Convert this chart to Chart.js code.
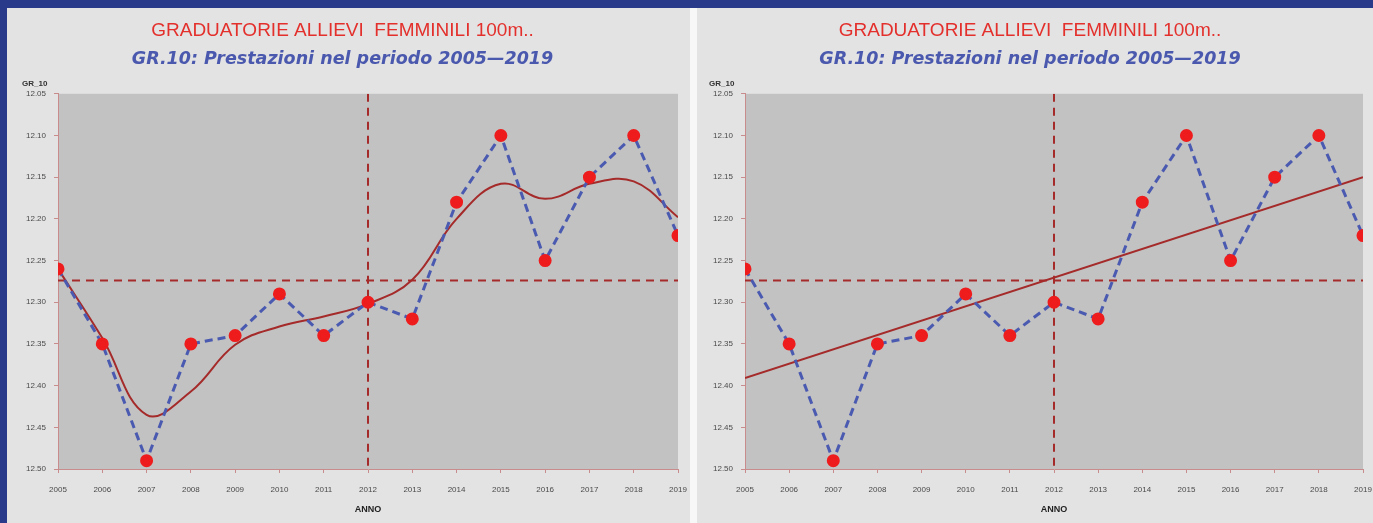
<!DOCTYPE html>
<html>
<head>
<meta charset="utf-8">
<script src="https://cdn.jsdelivr.net/npm/chart.js@4.4.1/dist/chart.umd.min.js"></script>
<style>
    body { margin: 0; width: 1373px; height: 523px; background: #2a3a8a; position: relative; overflow: hidden; }
    #left { position: absolute; left: 7px; top: 8px; width: 683px; height: 515px; background: #e3e3e3; }
    #gap { position: absolute; left: 690px; top: 8px; width: 7px; height: 515px; background: #f7f7f7; }
    #right { position: absolute; left: 697px; top: 8px; width: 676px; height: 515px; background: #e3e3e3; }
</style>
</head>
<body>
<div id="left"><canvas id="leftChart" width="683" height="515"></canvas></div>
<div id="gap"></div>
<div id="right"><canvas id="rightChart" width="676" height="515"></canvas></div>
<script>
// Data
const years = [2005, 2006, 2007, 2008, 2009, 2010, 2011, 2012, 2013, 2014, 2015, 2016, 2017, 2018, 2019]
const times = [12.26, 12.35, 12.49, 12.35, 12.34, 12.29, 12.34, 12.30, 12.32, 12.18, 12.10, 12.25, 12.15, 12.10, 12.22]
// smoothed curve (left chart)
const smoothTimes = [12.26, 12.343, 12.435, 12.407, 12.351, 12.329, 12.317, 12.302, 12.273, 12.200, 12.158, 12.176, 12.158, 12.155, 12.198]
// linear trend (right chart)
const trendYears = [2005, 2019]
const trendTimes = [12.391, 12.150]
// reference lines
const meanTime = 12.274
const medianYear = 2012
const yTicks = [12.05, 12.10, 12.15, 12.20, 12.25, 12.30, 12.35, 12.40, 12.45, 12.50]

const titleText = "GRADUATORIE ALLIEVI  FEMMINILI 100m.."
const subtitleText = "GR.10: Prestazioni nel periodo 2005\u20142019"

const redLine = "#a52a2a"
const blueDash = "#4a5ab0"
const dotRed = "#ee1c1c"

// plot background + GR_10 label
const panelPlugin = {
    id: "panelPlugin",
    beforeDraw(chart) {
        const { ctx, chartArea } = chart
        ctx.save()
        ctx.fillStyle = "#c2c2c2"
        ctx.fillRect(chartArea.left, chartArea.top, chartArea.right - chartArea.left, chartArea.bottom - chartArea.top)
        ctx.restore()
    },
    afterDraw(chart) {
        const { ctx, chartArea } = chart
        ctx.save()
        ctx.fillStyle = "#333"
        ctx.font = "bold 8px 'Liberation Sans', Arial, sans-serif"
        ctx.textBaseline = "middle"
        ctx.fillText("GR_10", chartArea.left - 36, chartArea.top - 10)
        ctx.restore()
    }
}

const makeChart = (canvasId, fitLine, yWidth, padRight) => {
    const points = years.map((y, i) => ({ x: y, y: times[i] }))
    const datasets = [
        {
            data: points,
            borderColor: blueDash,
            borderWidth: 3,
            borderDash: [8, 5],
            pointBackgroundColor: dotRed,
            pointBorderColor: dotRed,
            pointRadius: 5,
            tension: 0,
            order: 0
        },
        Object.assign({
            borderColor: redLine,
            borderWidth: 2,
            pointRadius: 0,
            order: 1
        }, fitLine),
        {
            data: [{ x: years[0], y: meanTime }, { x: years[years.length - 1], y: meanTime }],
            borderColor: redLine,
            borderWidth: 2,
            borderDash: [8, 6],
            pointRadius: 0,
            order: 2
        },
        {
            data: [{ x: medianYear, y: yTicks[0] }, { x: medianYear, y: yTicks[yTicks.length - 1] }],
            borderColor: redLine,
            borderWidth: 2,
            borderDash: [8, 6],
            pointRadius: 0,
            order: 2
        }
    ]

    const ctx = document.getElementById(canvasId).getContext("2d")
    return new Chart(ctx, {
        type: "line",
        data: { datasets: datasets },
        options: {
            responsive: false,
            animation: false,
            layout: { padding: { left: 0, right: padRight, top: 0, bottom: 0 } },
            plugins: {
                legend: { display: false },
                tooltip: { enabled: false },
                title: {
                    display: true,
                    text: titleText,
                    color: "#e3302c",
                    font: { family: "'Liberation Sans', Arial, sans-serif", size: 19, weight: "normal", lineHeight: 1.2 },
                    padding: { top: 11, bottom: 7 }
                },
                subtitle: {
                    display: true,
                    text: subtitleText,
                    color: "#4a58ae",
                    font: { family: "'DejaVu Sans', sans-serif", size: 17.5, weight: "bold", style: "italic", lineHeight: 1.2 },
                    padding: { top: 0, bottom: 24 }
                }
            },
            scales: {
                x: {
                    type: "linear",
                    min: years[0],
                    max: years[years.length - 1],
                    afterFit: (scale) => {
                        scale.height = 54
                        scale.paddingLeft = 0
                        scale.paddingRight = 0
                    },
                    ticks: {
                        stepSize: 1,
                        color: "#4a4a4a",
                        font: { size: 8, family: "'Liberation Sans', Arial, sans-serif" },
                        padding: 12,
                        maxRotation: 0,
                        callback: (v) => String(v)
                    },
                    grid: { drawOnChartArea: false, color: "#c98c8c", tickLength: 4 },
                    border: { color: "#c98c8c", width: 1 },
                    title: {
                        display: true,
                        text: "ANNO",
                        color: "#222",
                        font: { size: 9, weight: "bold", family: "'Liberation Sans', Arial, sans-serif" },
                        padding: { top: 0, bottom: 8 }
                    }
                },
                y: {
                    type: "linear",
                    reverse: true,
                    min: yTicks[0],
                    max: yTicks[yTicks.length - 1],
                    afterFit: (scale) => { scale.width = yWidth },
                    afterBuildTicks: (scale) => { scale.ticks = yTicks.map(v => ({ value: v })) },
                    ticks: {
                        color: "#4a4a4a",
                        font: { size: 8, family: "'Liberation Sans', Arial, sans-serif" },
                        padding: 8,
                        callback: (v) => Number(v).toFixed(2)
                    },
                    grid: { drawOnChartArea: false, color: "#c98c8c", tickLength: 4 },
                    border: { color: "#c98c8c", width: 1 }
                }
            }
        },
        plugins: [panelPlugin]
    })
}

makeChart("leftChart", {
    data: years.map((y, i) => ({ x: y, y: smoothTimes[i] })),
    tension: 0.4
}, 51, 12)

makeChart("rightChart", {
    data: trendYears.map((y, i) => ({ x: y, y: trendTimes[i] })),
    tension: 0
}, 48, 10)
</script>
</body>
</html>
